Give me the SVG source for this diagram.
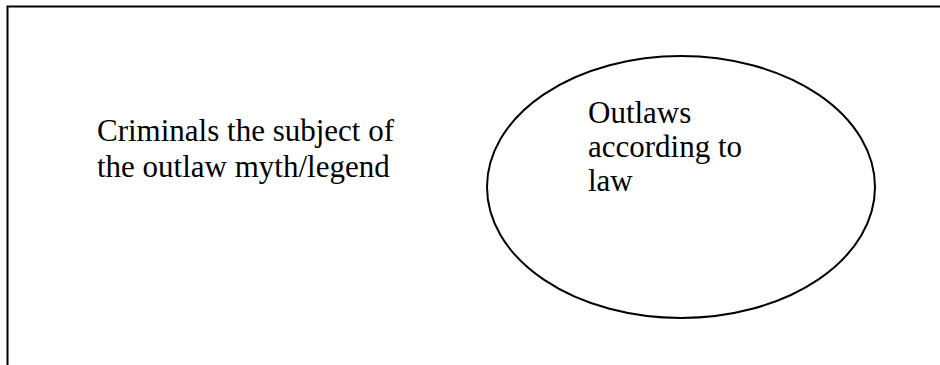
<svg xmlns="http://www.w3.org/2000/svg" width="940" height="365" viewBox="0 0 940 365">
<style>
.t{font-family:"Liberation Serif","Times New Roman",serif;font-size:31px;fill:#000}
.ln{stroke:#000;stroke-width:2;fill:none}
</style>
<rect width="940" height="365" fill="#fff"/>
<g id="frame">
<path class="ln" d="M7.5,365 V6.5 H940"/>
</g>
<g id="criminals">
<text class="t" x="97" y="141">Criminals the subject of</text>
<text class="t" x="97" y="177">the outlaw myth/legend</text>
</g>
<g id="outlaws">
<ellipse class="ln" cx="681" cy="187" rx="194" ry="131"/>
<text class="t" x="588" y="123">Outlaws</text>
<text class="t" x="588" y="157">according to</text>
<text class="t" x="588" y="191">law</text>
</g>
<g id="connectors"></g>
</svg>
